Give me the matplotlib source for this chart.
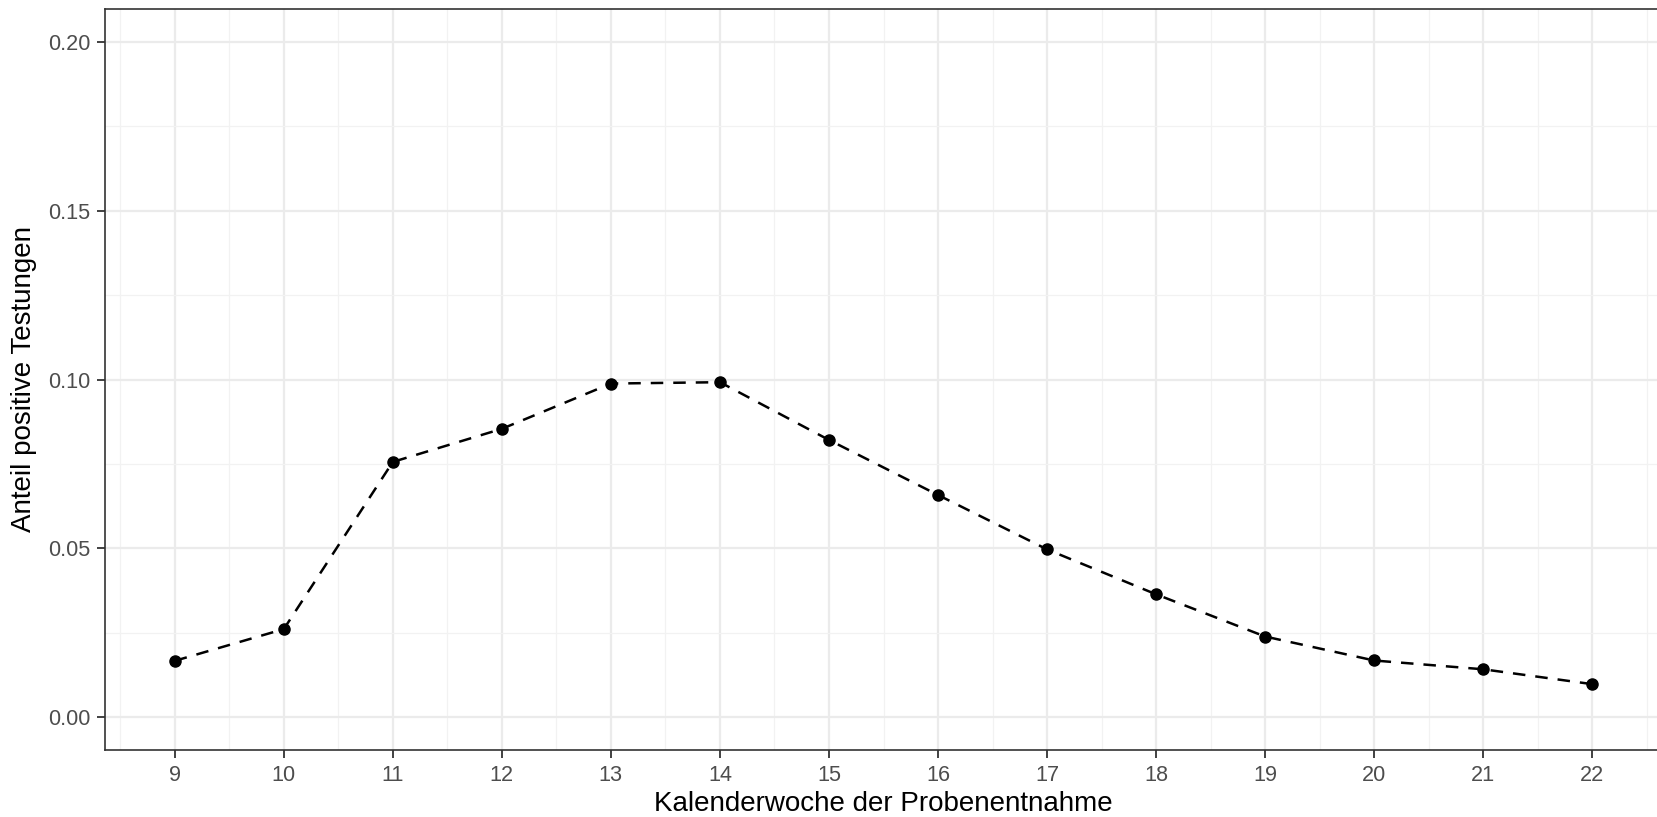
import matplotlib
matplotlib.use("Agg")
import matplotlib.pyplot as plt
from matplotlib.ticker import MultipleLocator, FixedLocator

weeks = [9, 10, 11, 12, 13, 14, 15, 16, 17, 18, 19, 20, 21, 22]
anteil = [0.0167, 0.0261, 0.0756, 0.0854, 0.0988, 0.0992, 0.0821, 0.0658,
          0.0497, 0.0364, 0.0239, 0.0168, 0.0142, 0.0098]
yticks = [0.00, 0.05, 0.10, 0.15, 0.20]
ytick_labels = ["0.00", "0.05", "0.10", "0.15", "0.20"]
xlabel = "Kalenderwoche der Probenentnahme"
ylabel = "Anteil positive Testungen"

plt.rcParams['font.family'] = ['Liberation Sans', 'DejaVu Sans']

W, H = 1658, 817
fig = plt.figure(figsize=(W / 100, H / 100), dpi=100)
L, R, T, B = 105, 1662, 9, 750
ax = fig.add_axes([L / W, (H - B) / H, (R - L) / W, (B - T) / H])

ax.set_xlim(8.36, 22.64)
ax.set_ylim(-0.0097, 0.2097)

ax.xaxis.set_major_locator(FixedLocator(weeks))
ax.set_xticklabels([str(w) for w in weeks])
ax.xaxis.set_minor_locator(MultipleLocator(0.5))
ax.set_yticks(yticks)
ax.set_yticklabels(ytick_labels)
ax.yaxis.set_minor_locator(MultipleLocator(0.025))

ax.grid(which='major', color='#EBEBEB', linewidth=1.6)
ax.grid(which='minor', color='#F2F2F2', linewidth=0.9)
ax.set_axisbelow(True)

for s in ax.spines.values():
    s.set_color('#333333')
    s.set_linewidth(1.2)

ax.tick_params(which='major', length=5.5, width=1.3, color='#333333',
               labelsize=15.6, labelcolor='#4D4D4D', pad=5)
ax.tick_params(which='minor', length=0)

ax.plot(weeks, anteil, linestyle=(0, (5, 4)), color='black', linewidth=1.8,
        marker='o', markersize=8, markerfacecolor='black', markeredgecolor='black',
        zorder=3)

cx = (L + R) / 2 / W
cy = 1 - (T + B) / 2 / H
fig.text(cx, 1 - 811 / H, xlabel, ha='center', va='baseline',
         fontsize=20, color='black')
fig.text(24.5 / W, cy, ylabel, ha='center', va='center', rotation=90,
         fontsize=20, color='black')

fig.savefig("out.png", dpi=100)
